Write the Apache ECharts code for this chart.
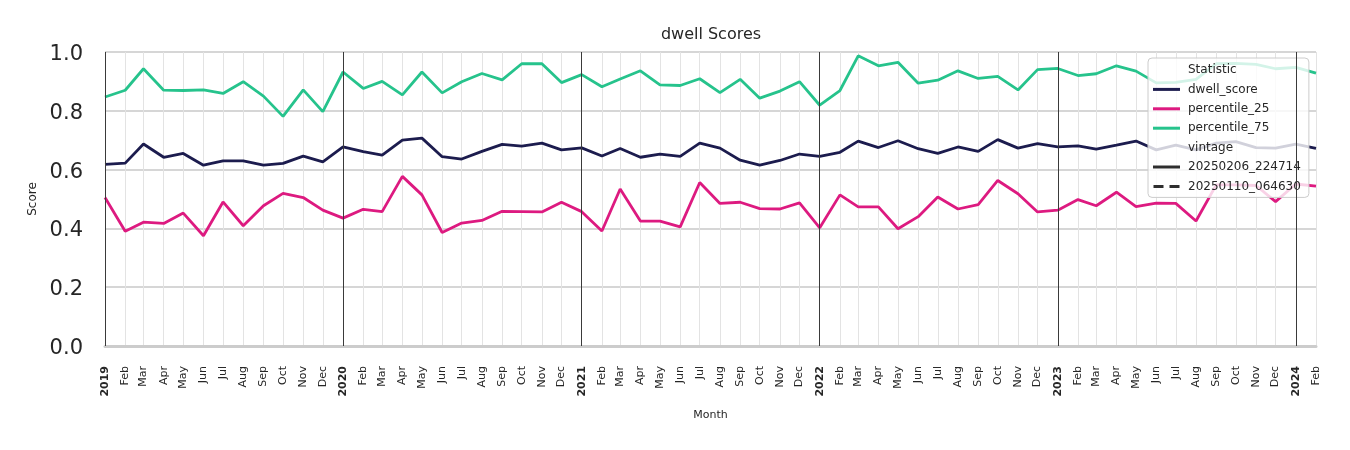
<!DOCTYPE html>
<html>
<head>
<meta charset="utf-8">
<script src="https://cdn.jsdelivr.net/npm/echarts@6/dist/echarts.min.js"></script>
<style>
html,body{margin:0;padding:0;background:#fff;}
#chart{width:1350px;height:450px;}
</style>
</head>
<body>
<div id="chart"></div>
<script>
// ---- data ----
const months = [
 '2019-01-01','2019-02-01','2019-03-01','2019-04-01','2019-05-01','2019-06-01','2019-07-01','2019-08-01','2019-09-01','2019-10-01','2019-11-01','2019-12-01',
 '2020-01-01','2020-02-01','2020-03-01','2020-04-01','2020-05-01','2020-06-01','2020-07-01','2020-08-01','2020-09-01','2020-10-01','2020-11-01','2020-12-01',
 '2021-01-01','2021-02-01','2021-03-01','2021-04-01','2021-05-01','2021-06-01','2021-07-01','2021-08-01','2021-09-01','2021-10-01','2021-11-01','2021-12-01',
 '2022-01-01','2022-02-01','2022-03-01','2022-04-01','2022-05-01','2022-06-01','2022-07-01','2022-08-01','2022-09-01','2022-10-01','2022-11-01','2022-12-01',
 '2023-01-01','2023-02-01','2023-03-01','2023-04-01','2023-05-01','2023-06-01','2023-07-01','2023-08-01','2023-09-01','2023-10-01','2023-11-01','2023-12-01',
 '2024-01-01','2024-02-01'
];
const dwellScore = [
 0.618,0.622,0.687,0.642,0.655,0.615,0.630,0.630,0.615,0.621,0.646,0.626,
 0.677,0.661,0.649,0.700,0.707,0.644,0.636,0.662,0.686,0.680,0.690,0.667,
 0.674,0.646,0.672,0.642,0.653,0.645,0.690,0.673,0.632,0.615,0.631,0.653,
 0.645,0.659,0.697,0.675,0.698,0.671,0.655,0.677,0.662,0.702,0.673,0.688,
 0.677,0.681,0.670,0.683,0.697,0.667,0.683,0.667,0.690,0.695,0.675,0.673,
 0.687,0.672
];
const percentile25 = [
 0.505,0.390,0.421,0.417,0.452,0.375,0.490,0.409,0.477,0.519,0.505,0.462,
 0.435,0.465,0.457,0.577,0.514,0.386,0.418,0.427,0.458,0.457,0.456,0.489,
 0.457,0.391,0.534,0.425,0.425,0.405,0.556,0.485,0.489,0.467,0.466,0.487,
 0.402,0.514,0.473,0.473,0.399,0.440,0.507,0.466,0.481,0.563,0.518,0.456,
 0.462,0.498,0.477,0.523,0.474,0.486,0.485,0.425,0.548,0.548,0.546,0.491,
 0.551,0.544
];
const percentile75 = [
 0.847,0.870,0.943,0.870,0.869,0.871,0.859,0.899,0.850,0.781,0.871,0.797,
 0.932,0.876,0.900,0.854,0.932,0.861,0.899,0.927,0.905,0.960,0.960,0.896,
 0.923,0.882,0.908,0.936,0.888,0.886,0.909,0.862,0.907,0.843,0.867,0.899,
 0.819,0.869,0.987,0.953,0.965,0.894,0.904,0.936,0.910,0.917,0.871,0.940,
 0.944,0.920,0.926,0.953,0.935,0.895,0.897,0.907,0.960,0.961,0.958,0.943,
 0.948,0.928
];
const yearStarts = ['2019-01-01','2020-01-01','2021-01-01','2022-01-01','2023-01-01','2024-01-01'];
const monthAbbr = ['Jan','Feb','Mar','Apr','May','Jun','Jul','Aug','Sep','Oct','Nov','Dec'];
const yTicks = [0.0,0.2,0.4,0.6,0.8,1.0];
const vintages = ['20250206_224714','20250110_064630'];

const FONT = 'DejaVu Sans';
const TXT = '#262626';
const C_NAVY = '#1c1c4e', C_PINK = '#dd1a80', C_GREEN = '#26c38c';

const pair = arr => months.map((m,i)=>[m, arr[i]]);

const chart = echarts.init(document.getElementById('chart'), null, {renderer:'canvas'});
const solidIcon = 'path://M0,0H27V3H0Z';
const dashIcon = 'path://M0,0H10V3H0Z M16,0H26V3H16Z';

chart.setOption({
  animation:false,
  backgroundColor:'#ffffff',
  textStyle:{fontFamily:FONT},
  title:{
    text:'dwell Scores', left:706, textAlign:'center', top:22,
    textStyle:{fontFamily:FONT, fontSize:16, fontWeight:'normal', color:TXT}
  },
  grid:{left:105, right:34, top:52, bottom:104, containLabel:false},
  legend:{
    orient:'vertical', left:1148, top:58,
    padding:[5,8,4,5],
    backgroundColor:'rgba(255,255,255,0.8)',
    borderColor:'#cccccc', borderWidth:1, borderRadius:4,
    itemWidth:27, itemHeight:3, itemGap:5.4,
    selectedMode:false,
    textStyle:{fontFamily:FONT, fontSize:12, color:TXT, lineHeight:14, padding:[0,0,0,3]},
    data:[
      {name:'Statistic', icon:'none'},
      {name:'dwell_score', icon:solidIcon},
      {name:'percentile_25', icon:solidIcon},
      {name:'percentile_75', icon:solidIcon},
      {name:'vintage', icon:'none'},
      {name:vintages[0], icon:solidIcon},
      {name:vintages[1], icon:dashIcon}
    ]
  },
  xAxis:{
    type:'time',
    min:months[0], max:months[months.length-1],
    minInterval:27*24*3600*1000, maxInterval:32*24*3600*1000,
    name:'Month', nameLocation:'middle', nameGap:64,
    nameTextStyle:{fontFamily:FONT, fontSize:11, color:TXT},
    axisLine:{show:true, lineStyle:{color:'#cccccc', width:3}},
    axisTick:{show:false},
    splitLine:{show:true, lineStyle:{color:'#e3e3e3', width:1}},
    axisLabel:{
      rotate:90, margin:20, hideOverlap:false, showMinLabel:true, showMaxLabel:true,
      fontFamily:FONT, fontSize:11, color:TXT,
      formatter:function(v){
        const d = new Date(v);
        const m = d.getMonth();
        if (m === 0) return '{y|' + d.getFullYear() + '}';
        return monthAbbr[m];
      },
      rich:{y:{fontFamily:FONT, fontSize:11, fontWeight:'bold', color:TXT}}
    }
  },
  yAxis:{
    type:'value', min:yTicks[0], max:yTicks[yTicks.length-1], interval:0.2,
    name:'Score', nameLocation:'middle', nameGap:66,
    nameTextStyle:{fontFamily:FONT, fontSize:12, color:TXT},
    axisLine:{show:false}, axisTick:{show:false},
    splitLine:{show:true, lineStyle:{color:'#c8c8c8', width:1.7}},
    axisLabel:{margin:22, fontFamily:FONT, fontSize:21, color:TXT,
      formatter:v=>'{t|' + v.toFixed(1) + '}',
      rich:{t:{fontFamily:FONT, fontSize:21, color:TXT, padding:[5,0,0,0]}}}
  },
  series:[
    {name:'Statistic', type:'line', data:[]},
    {name:'dwell_score', type:'line', data:pair(dwellScore), showSymbol:false,
      lineStyle:{color:C_NAVY, width:2.8}, itemStyle:{color:C_NAVY}, z:3,
      markLine:{silent:true, symbol:['none','none'], label:{show:false},
        lineStyle:{color:'#3a3a3a', width:1, type:'solid'},
        data:yearStarts.map(y=>({xAxis:y}))}
    },
    {name:'percentile_25', type:'line', data:pair(percentile25), showSymbol:false,
      lineStyle:{color:C_PINK, width:2.8}, itemStyle:{color:C_PINK}, z:3},
    {name:'percentile_75', type:'line', data:pair(percentile75), showSymbol:false,
      lineStyle:{color:C_GREEN, width:2.8}, itemStyle:{color:C_GREEN}, z:3},
    {name:'vintage', type:'line', data:[]},
    {name:vintages[0], type:'line', data:[], itemStyle:{color:'#2e2e2e'}, lineStyle:{color:'#2e2e2e'}},
    {name:vintages[1], type:'line', data:[], itemStyle:{color:'#2e2e2e'}, lineStyle:{color:'#2e2e2e', type:'dashed'}}
  ]
});
</script>
</body>
</html>
